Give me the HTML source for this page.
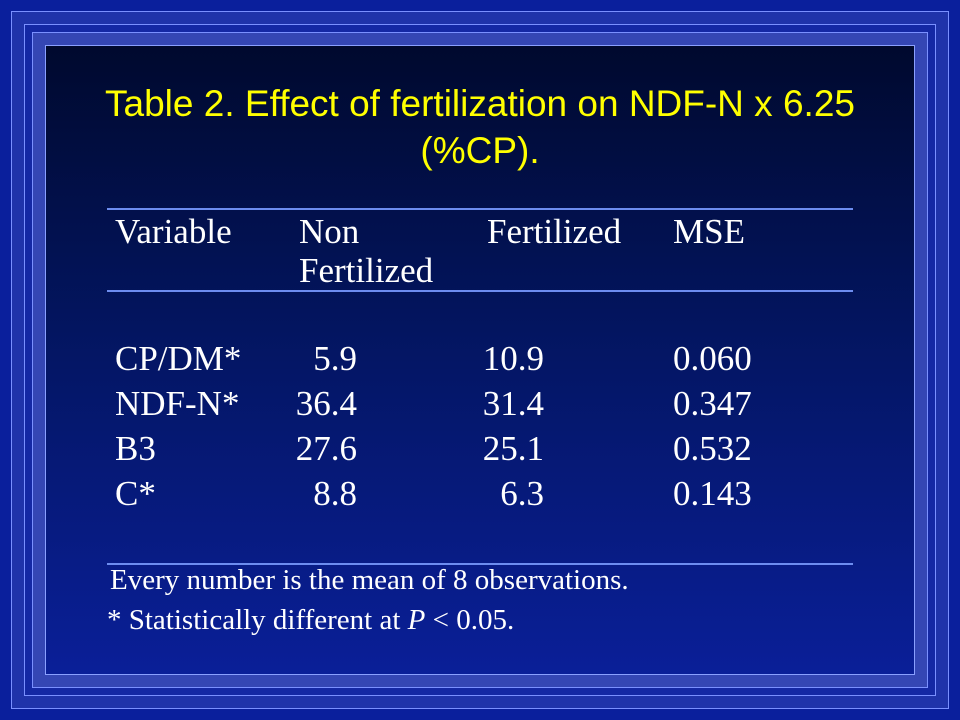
<!DOCTYPE html>
<html><head><meta charset="utf-8"><style>
html,body{margin:0;padding:0}
body{width:960px;height:720px;position:relative;overflow:hidden;background:#0a1f9c}
.b{position:absolute;box-sizing:border-box}
.t{position:absolute;white-space:nowrap;line-height:1;color:#fff;font-family:"Liberation Serif",serif;font-size:35px}
.r{text-align:right}
.ln{position:absolute;left:107px;width:746px;height:2px;background:#6d8df0}
</style></head><body>
<div class="b" style="left:11px;top:11px;width:938px;height:698px;border:1px solid #7a90ff;background:#1f33aa"></div>
<div class="b" style="left:24px;top:24px;width:912px;height:672px;border:1px solid #7a90ff;background:#1428a4"></div>
<div class="b" style="left:32px;top:32px;width:896px;height:656px;border:1px solid #7a90ff;background:#3446b4"></div>
<div class="b" style="left:45px;top:45px;width:870px;height:630px;border:1px solid #8aa0ff;background:linear-gradient(#00092e 0%,#031560 45%,#0a1f98 100%)"></div>

<div class="t" style="left:0;width:960px;text-align:center;top:85px;font-family:'Liberation Sans',sans-serif;font-size:37px;color:#ffff00">Table 2. Effect of fertilization on NDF-N x 6.25</div>
<div class="t" style="left:0;width:960px;text-align:center;top:132px;font-family:'Liberation Sans',sans-serif;font-size:37px;color:#ffff00">(%CP).</div>

<div class="ln" style="top:208px"></div>
<div class="ln" style="top:290px"></div>
<div class="ln" style="top:563px"></div>

<div class="t" style="left:115px;top:214px">Variable</div>
<div class="t" style="left:299px;top:214px">Non</div>
<div class="t" style="left:299px;top:253px">Fertilized</div>
<div class="t" style="left:487px;top:214px">Fertilized</div>
<div class="t" style="left:673px;top:214px">MSE</div>

<div class="t" style="left:115px;top:341px">CP/DM*</div>
<div class="t r" style="left:257px;width:100px;top:341px">5.9</div>
<div class="t r" style="left:444px;width:100px;top:341px">10.9</div>
<div class="t" style="left:673px;top:341px">0.060</div>

<div class="t" style="left:115px;top:386px">NDF-N*</div>
<div class="t r" style="left:257px;width:100px;top:386px">36.4</div>
<div class="t r" style="left:444px;width:100px;top:386px">31.4</div>
<div class="t" style="left:673px;top:386px">0.347</div>

<div class="t" style="left:115px;top:431px">B3</div>
<div class="t r" style="left:257px;width:100px;top:431px">27.6</div>
<div class="t r" style="left:444px;width:100px;top:431px">25.1</div>
<div class="t" style="left:673px;top:431px">0.532</div>

<div class="t" style="left:115px;top:476px">C*</div>
<div class="t r" style="left:257px;width:100px;top:476px">8.8</div>
<div class="t r" style="left:444px;width:100px;top:476px">6.3</div>
<div class="t" style="left:673px;top:476px">0.143</div>

<div class="t" style="left:110px;top:566px;font-size:29px">Every number is the mean of 8 observations.</div>
<div class="t" style="left:107px;top:606px;font-size:29px">* Statistically different at <i>P</i> &lt; 0.05.</div>
</body></html>
